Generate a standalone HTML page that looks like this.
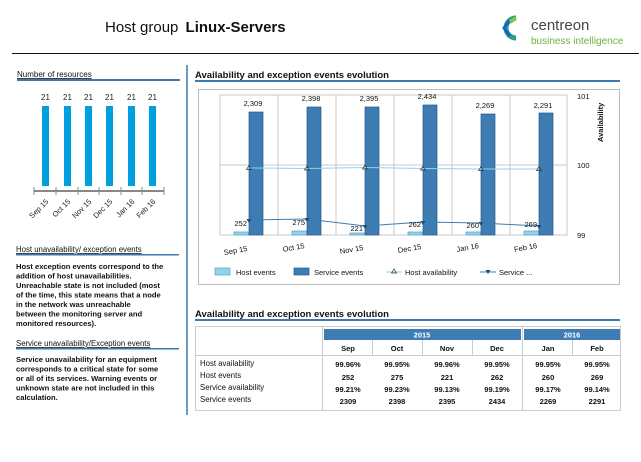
<!DOCTYPE html>
<html><head><meta charset="utf-8"><style>
body{margin:0;width:641px;height:462px;background:#fff;overflow:hidden;font-family:"Liberation Sans",sans-serif;}
svg{position:absolute;left:0;top:0}
</style></head><body>
<svg width="641" height="462" viewBox="0 0 641 462" font-family="Liberation Sans, sans-serif">
<text x="105" y="32" font-size="15" fill="#111">Host group <tspan font-weight="bold" dx="3">Linux-Servers</tspan></text>
<path d="M516 18 A9 9 0 1 0 516 38" stroke="#2a9d8f" stroke-width="5" fill="none"/>
<path d="M510 20 L504 28 L510 36" stroke="#1565c0" stroke-width="3" fill="none"/>
<path d="M516 18 L510 22" stroke="#8bc34a" stroke-width="4"/>
<text x="531" y="30" font-size="15" fill="#444">centreon</text>
<text x="531" y="44" font-size="10" fill="#6cb33e">business intelligence</text>
<line x1="12" y1="53.5" x2="639" y2="53.5" stroke="#111" stroke-width="1"/>
<text x="17" y="77" font-size="8" fill="#111" text-decoration="underline">Number of resources</text>
<rect x="17" y="79" width="163" height="2" fill="#3d7ab0"/>
<line x1="187" y1="65" x2="187" y2="415" stroke="#3d7ab0" stroke-width="1.5"/>
<g fill="#009fe0">
<rect x="42" y="106" width="7" height="80"/><rect x="64" y="106" width="7" height="80"/><rect x="85" y="106" width="7" height="80"/><rect x="106" y="106" width="7" height="80"/><rect x="128" y="106" width="7" height="80"/><rect x="149" y="106" width="7" height="80"/>
</g>
<g font-size="8" fill="#222" text-anchor="middle">
<text x="45.5" y="100">21</text><text x="67.5" y="100">21</text><text x="88.5" y="100">21</text><text x="109.5" y="100">21</text><text x="131.5" y="100">21</text><text x="152.5" y="100">21</text>
</g>
<line x1="34" y1="191" x2="164" y2="191" stroke="#111"/>
<g stroke="#888"><line x1="34" y1="187" x2="34" y2="195"/><line x1="56" y1="187" x2="56" y2="195"/><line x1="78" y1="187" x2="78" y2="195"/><line x1="99" y1="187" x2="99" y2="195"/><line x1="121" y1="187" x2="121" y2="195"/><line x1="142" y1="187" x2="142" y2="195"/><line x1="164" y1="187" x2="164" y2="195"/></g>
<g font-size="7.5" fill="#222" text-anchor="end">
<text transform="translate(49,202) rotate(-45)">Sep 15</text>
<text transform="translate(71,202) rotate(-45)">Oct 15</text>
<text transform="translate(92,202) rotate(-45)">Nov 15</text>
<text transform="translate(113,202) rotate(-45)">Dec 15</text>
<text transform="translate(135,202) rotate(-45)">Jan 16</text>
<text transform="translate(156,202) rotate(-45)">Feb 16</text>
</g>
<text x="16" y="252" font-size="7.8" fill="#111" text-decoration="underline">Host unavailability/ exception events</text>
<rect x="16" y="254" width="163" height="1.5" fill="#3d7ab0"/>
<g font-size="7.6" font-weight="bold" fill="#111">
<text x="16" y="269">Host exception events correspond to the</text>
<text x="16" y="278.5">addition of host unavailabilities.</text>
<text x="16" y="288">Unreachable state is not included (most</text>
<text x="16" y="297.5">of the time, this state means that a node</text>
<text x="16" y="307">in the network was unreachable</text>
<text x="16" y="316.5">between the monitoring server and</text>
<text x="16" y="326">monitored resources).</text>
</g>
<text x="16" y="346" font-size="7.8" fill="#111" text-decoration="underline">Service unavailability/Exception events</text>
<rect x="16" y="348" width="163" height="1.5" fill="#3d7ab0"/>
<g font-size="7.6" font-weight="bold" fill="#111">
<text x="16" y="362">Service unavailability for an equipment</text>
<text x="16" y="371.5">corresponds to a critical state for some</text>
<text x="16" y="381">or all of its services. Warning events or</text>
<text x="16" y="390.5">unknown state are not included in this</text>
<text x="16" y="400">calculation.</text>
</g>
<text x="195" y="78" font-size="9.5" font-weight="bold" fill="#111">Availability and exception events evolution</text>
<rect x="195" y="80" width="425" height="2" fill="#3d7ab0"/>
<rect x="198.5" y="89.5" width="421" height="195" fill="none" stroke="#bbb"/>
<g stroke="#c8c8c8">
<rect x="220" y="95" width="347" height="140" fill="none"/>
<line x1="278" y1="95" x2="278" y2="235"/><line x1="336" y1="95" x2="336" y2="235"/><line x1="394" y1="95" x2="394" y2="235"/><line x1="452" y1="95" x2="452" y2="235"/><line x1="510" y1="95" x2="510" y2="235"/>
<line x1="220" y1="165" x2="567" y2="165"/>
</g>
<g fill="#8fd3ee" stroke="#5aa0c0" stroke-width="0.7">
<rect x="234" y="232" width="15" height="3"/><rect x="292" y="231" width="15" height="4"/><rect x="350" y="233" width="15" height="2"/><rect x="408" y="232" width="15" height="3"/><rect x="466" y="232" width="15" height="3"/><rect x="524" y="231" width="15" height="4"/>
</g>
<g fill="#3d7db4" stroke="#255a88" stroke-width="0.7">
<rect x="249" y="112" width="14" height="123"/><rect x="307" y="107" width="14" height="128"/><rect x="365" y="107" width="14" height="128"/><rect x="423" y="105" width="14" height="130"/><rect x="481" y="114" width="14" height="121"/><rect x="539" y="113" width="14" height="122"/>
</g>
<g font-size="7.5" fill="#111" text-anchor="middle">
<text x="253" y="106">2,309</text><text x="311" y="101">2,398</text><text x="369" y="101">2,395</text><text x="427" y="99">2,434</text><text x="485" y="108">2,269</text><text x="543" y="108">2,291</text>
</g>
<polyline points="249,168 307,168.5 365,167.5 423,168.5 481,169 539,169" fill="none" stroke="#8fd3ee" stroke-width="1"/>
<g fill="none" stroke="#333" stroke-width="0.7">
<path d="M249,165.5 l2.5,4 h-5z"/><path d="M307,166 l2.5,4 h-5z"/><path d="M365,165 l2.5,4 h-5z"/><path d="M423,166 l2.5,4 h-5z"/><path d="M481,166.5 l2.5,4 h-5z"/><path d="M539,166.5 l2.5,4 h-5z"/>
</g>
<polyline points="249,220 307,219 365,226 423,222 481,223 539,226" fill="none" stroke="#3d7db4" stroke-width="1"/>
<g fill="#1e4e7a">
<path d="M246.5,219 h5 l-2.5,4z"/><path d="M304.5,218 h5 l-2.5,4z"/><path d="M362.5,225 h5 l-2.5,4z"/><path d="M420.5,221 h5 l-2.5,4z"/><path d="M478.5,222 h5 l-2.5,4z"/><path d="M536.5,225 h5 l-2.5,4z"/>
</g>
<g font-size="7.5" fill="#111" text-anchor="end">
<text x="247" y="226">252</text><text x="305" y="225">275</text><text x="363" y="231">221</text><text x="421" y="227">262</text><text x="479" y="228">260</text><text x="537" y="227">269</text>
</g>
<g font-size="7.5" fill="#111">
<text x="577" y="99">101</text><text x="577" y="168">100</text><text x="577" y="238">99</text>
</g>
<text transform="translate(603,142) rotate(-90)" font-size="7.5" font-weight="bold" fill="#111">Availability</text>
<g font-size="7.5" fill="#111" text-anchor="middle">
<text transform="translate(236,253) rotate(-10)">Sep 15</text>
<text transform="translate(294,250) rotate(-10)">Oct 15</text>
<text transform="translate(352,252) rotate(-10)">Nov 15</text>
<text transform="translate(410,251) rotate(-10)">Dec 15</text>
<text transform="translate(468,250) rotate(-10)">Jan 16</text>
<text transform="translate(526,250) rotate(-10)">Feb 16</text>
</g>
<rect x="215" y="268" width="15" height="7" fill="#8fd3ee" stroke="#5aa0c0" stroke-width="0.7"/>
<text x="236" y="275" font-size="7.5" fill="#111">Host events</text>
<rect x="294" y="268" width="15" height="7" fill="#3d7db4" stroke="#255a88" stroke-width="0.7"/>
<text x="314" y="275" font-size="7.5" fill="#111">Service events</text>
<line x1="386" y1="272" x2="402" y2="272" stroke="#8fd3ee"/><path d="M394,269 l2.5,4 h-5z" fill="none" stroke="#333" stroke-width="0.7"/>
<text x="405" y="275" font-size="7.5" fill="#111">Host availability</text>
<line x1="480" y1="272" x2="496" y2="272" stroke="#3d7db4"/><path d="M485.5,270 h5 l-2.5,4z" fill="#1e4e7a"/>
<text x="499" y="275" font-size="7.5" fill="#111">Service ...</text>
<text x="195" y="317" font-size="9.5" font-weight="bold" fill="#111">Availability and exception events evolution</text>
<rect x="195" y="319" width="425" height="2" fill="#3d7ab0"/>
<rect x="195.5" y="326.5" width="425" height="84" fill="none" stroke="#ccc"/>
<line x1="322.5" y1="326" x2="322.5" y2="411" stroke="#ccc"/>
<line x1="522.5" y1="326" x2="522.5" y2="411" stroke="#ccc"/>
<rect x="324" y="329" width="197" height="11" fill="#3d7db4"/>
<rect x="524" y="329" width="96" height="11" fill="#3d7db4"/>
<g font-size="7.5" font-weight="bold" fill="#fff" text-anchor="middle"><text x="422" y="337.5">2015</text><text x="572" y="337.5">2016</text></g>
<g stroke="#ccc"><line x1="372.5" y1="340" x2="372.5" y2="355"/><line x1="422.5" y1="340" x2="422.5" y2="355"/><line x1="472.5" y1="340" x2="472.5" y2="355"/><line x1="572.5" y1="340" x2="572.5" y2="355"/><line x1="196" y1="355.5" x2="620" y2="355.5"/></g>
<g font-size="7.5" font-weight="bold" fill="#111" text-anchor="middle">
<text x="348" y="351">Sep</text><text x="397" y="351">Oct</text><text x="447" y="351">Nov</text><text x="497" y="351">Dec</text><text x="548" y="351">Jan</text><text x="597" y="351">Feb</text>
<text x="348" y="367">99.96%</text><text x="397" y="367">99.95%</text><text x="447" y="367">99.96%</text><text x="497" y="367">99.95%</text><text x="548" y="367">99.95%</text><text x="597" y="367">99.95%</text>
<text x="348" y="380">252</text><text x="397" y="380">275</text><text x="447" y="380">221</text><text x="497" y="380">262</text><text x="548" y="380">260</text><text x="597" y="380">269</text>
<text x="348" y="392">99.21%</text><text x="397" y="392">99.23%</text><text x="447" y="392">99.13%</text><text x="497" y="392">99.19%</text><text x="548" y="392">99.17%</text><text x="597" y="392">99.14%</text>
<text x="348" y="404">2309</text><text x="397" y="404">2398</text><text x="447" y="404">2395</text><text x="497" y="404">2434</text><text x="548" y="404">2269</text><text x="597" y="404">2291</text>
</g>
<g font-size="7.8" fill="#111">
<text x="200" y="366">Host availability</text><text x="200" y="378">Host events</text><text x="200" y="390">Service availability</text><text x="200" y="402">Service events</text>
</g>
</svg>
</body></html>
